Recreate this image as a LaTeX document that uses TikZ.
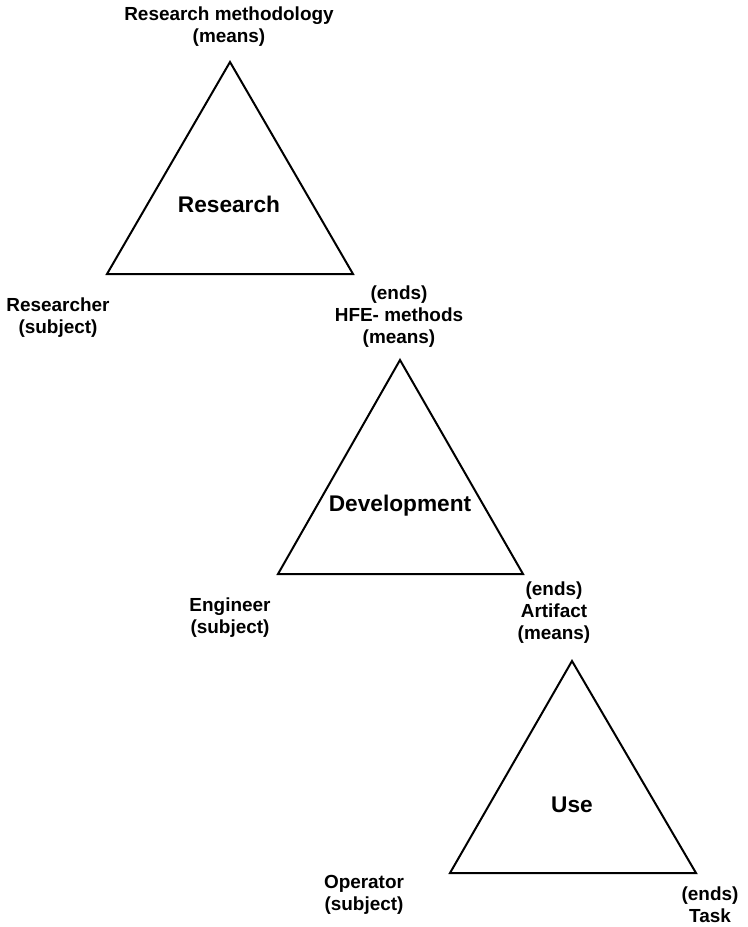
\documentclass[tikz,border=0pt]{standalone}
\usepackage{fontspec}
\setmainfont{Liberation Sans}
\tikzset{
	lbl/.style={align=center, font=\fontsize{14.2}{16.5}\selectfont\bfseries},
	big/.style={font=\fontsize{17}{20}\selectfont\bfseries, anchor=base},
	tri/.style={line width=1.5pt, line join=miter}
}
\begin{document}
\begin{tikzpicture}[x=0.75pt, y=-0.75pt]
	\useasboundingbox (0,0) rectangle (748,927);
	
	% Research
	\coordinate (r1) at (230,62);
	\coordinate (r2) at (107,274);
	\coordinate (r3) at (353,274);
	\draw[tri] (r1) -- (r2) -- (r3) -- cycle;
	\node[big] (research) at (229,213){Research};
	
	\node[lbl] (meth) at (229,27){Research methodology\\(means)};
	\node[lbl] (researcher) at (58,317.5){Researcher\\(subject)};
	\node[lbl] (hfe) at (399,316.5){(ends)\\HFE- methods\\(means)};
	
	% Development
	\coordinate (d1) at (400,360);
	\coordinate (d2) at (278,574);
	\coordinate (d3) at (523,574);
	\draw[tri] (d1) -- (d2) -- (d3) -- cycle;
	\node[big] (development) at (400,511){Development};
	
	\node[lbl] (engineer) at (230,617.5){Engineer\\(subject)};
	\node[lbl] (artifact) at (554,612.5){(ends)\\Artifact\\(means)};
	
	% Use
	\coordinate (u1) at (572,661);
	\coordinate (u2) at (450,873);
	\coordinate (u3) at (696,873);
	\draw[tri] (u1) -- (u2) -- (u3) -- cycle;
	\node[big] (use) at (572,812){Use};
	
	\node[lbl] (operator) at (364,895){Operator\\(subject)};
	\node[lbl] (task) at (710,904.5){(ends)\\Task};
\end{tikzpicture}
\end{document}
